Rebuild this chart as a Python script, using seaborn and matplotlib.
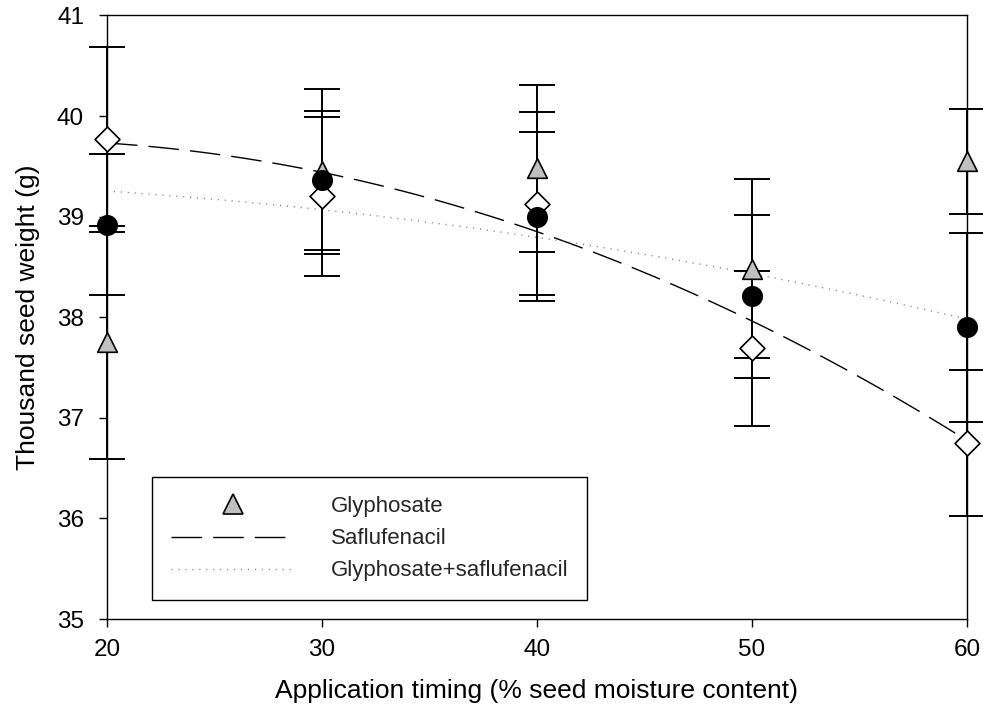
import matplotlib
matplotlib.use('Agg')
import matplotlib.pyplot as plt
from matplotlib.lines import Line2D
from matplotlib.legend_handler import HandlerLine2D
import numpy as np
import seaborn as sns

timing = [20, 30, 40, 50, 60]

# treatment means and standard errors
gly_mean = [37.75, 39.45, 39.48, 38.48, 39.55]
gly_se = [1.16, 0.82, 0.83, 0.89, 0.52]
saf_mean = [39.77, 39.20, 39.13, 37.69, 36.75]
saf_se = [0.92, 0.79, 0.91, 0.77, 0.73]
mix_mean = [38.92, 39.36, 39.00, 38.21, 37.90]
mix_se = [0.70, 0.69, 0.84, 0.81, 0.94]

# regression curves, values at each timing
saf_fit = [39.73, 39.44, 38.86, 37.95, 36.78]
mix_fit = [39.25, 39.08, 38.78, 38.44, 37.98]

labels = ['Glyphosate', 'Saflufenacil', 'Glyphosate+saflufenacil']

sns.set_theme(style='ticks')
plt.rcParams['font.family'] = ['Liberation Sans', 'DejaVu Sans']
plt.rcParams['axes.edgecolor'] = 'black'
plt.rcParams['axes.linewidth'] = 1.0

fig, ax = plt.subplots(figsize=(9.83, 7.23), dpi=100)
fig.subplots_adjust(left=0.1088, right=0.9837, bottom=0.1438, top=0.9787)

dash_style = dict(color='black', lw=1.0, dashes=(22, 8))
dot_style = dict(color='#808080', lw=1.0, dashes=(0.8, 4.2))

x = np.array(timing, dtype=float)
sns.regplot(x=x, y=np.array(saf_fit), order=2, ci=None, scatter=False,
            truncate=True, ax=ax, line_kws=dash_style)
sns.regplot(x=x, y=np.array(mix_fit), order=2, ci=None, scatter=False,
            truncate=True, ax=ax, line_kws=dot_style)

for mean, se in [(gly_mean, gly_se), (saf_mean, saf_se), (mix_mean, mix_se)]:
    eb = ax.errorbar(timing, mean, yerr=se, fmt='none', ecolor='black',
                     elinewidth=1.4, capsize=13, capthick=1.4, zorder=2)
    for art in eb.get_children():
        art.set_clip_on(False)

sns.scatterplot(x=timing, y=gly_mean, marker='^', s=200, color='#c0c0c0',
                edgecolor='black', linewidth=1.2, zorder=3, clip_on=False, ax=ax)
sns.scatterplot(x=timing, y=saf_mean, marker='D', s=160, color='white',
                edgecolor='black', linewidth=1.2, zorder=4, clip_on=False, ax=ax)
sns.scatterplot(x=timing, y=mix_mean, marker='o', s=200, color='black',
                edgecolor='black', linewidth=1.0, zorder=5, clip_on=False, ax=ax)

ax.set_xlim(20, 60)
ax.set_ylim(35, 41)
ax.set_xticks([20, 30, 40, 50, 60])
ax.set_yticks([35, 36, 37, 38, 39, 40, 41])
ax.tick_params(axis='both', direction='out', length=5.5, width=1.0,
               color='black', labelsize=17.5, labelcolor='black')
ax.tick_params(axis='y', pad=11)
ax.tick_params(axis='x', pad=9)
for sp in ax.spines.values():
    sp.set_visible(True)
    sp.set_color('black')
    sp.set_linewidth(1.0)

ax.set_xlabel('Application timing (% seed moisture content)', fontsize=19,
              labelpad=13, color='black')
ax.set_ylabel('Thousand seed weight (g)', fontsize=19, labelpad=12,
              color='black')


class LeftMarker(HandlerLine2D):
    def get_xdata(self, legend, xdescent, ydescent, width, height, fontsize):
        xdata, _ = super().get_xdata(legend, xdescent, ydescent, width, height, fontsize)
        return xdata, [-xdescent + 0.5 * fontsize]


h_gly = Line2D([], [], marker='^', ls='none', mfc='#c0c0c0', mec='black',
               mew=1.2, ms=14)
h_saf = Line2D([], [], **dash_style)
h_mix = Line2D([], [], **dot_style)
leg = ax.legend([h_gly, h_saf, h_mix], labels, loc='lower left',
                bbox_to_anchor=(0.052, 0.031), borderaxespad=0, fontsize=16,
                frameon=True, fancybox=False, shadow=False, framealpha=1,
                edgecolor='black', handlelength=5.6, handletextpad=1.6,
                labelspacing=0.5, borderpad=0.85, numpoints=1,
                handler_map={h_gly: LeftMarker()})
leg.get_frame().set_linewidth(1.0)

plt.savefig('out.png', dpi=100)
